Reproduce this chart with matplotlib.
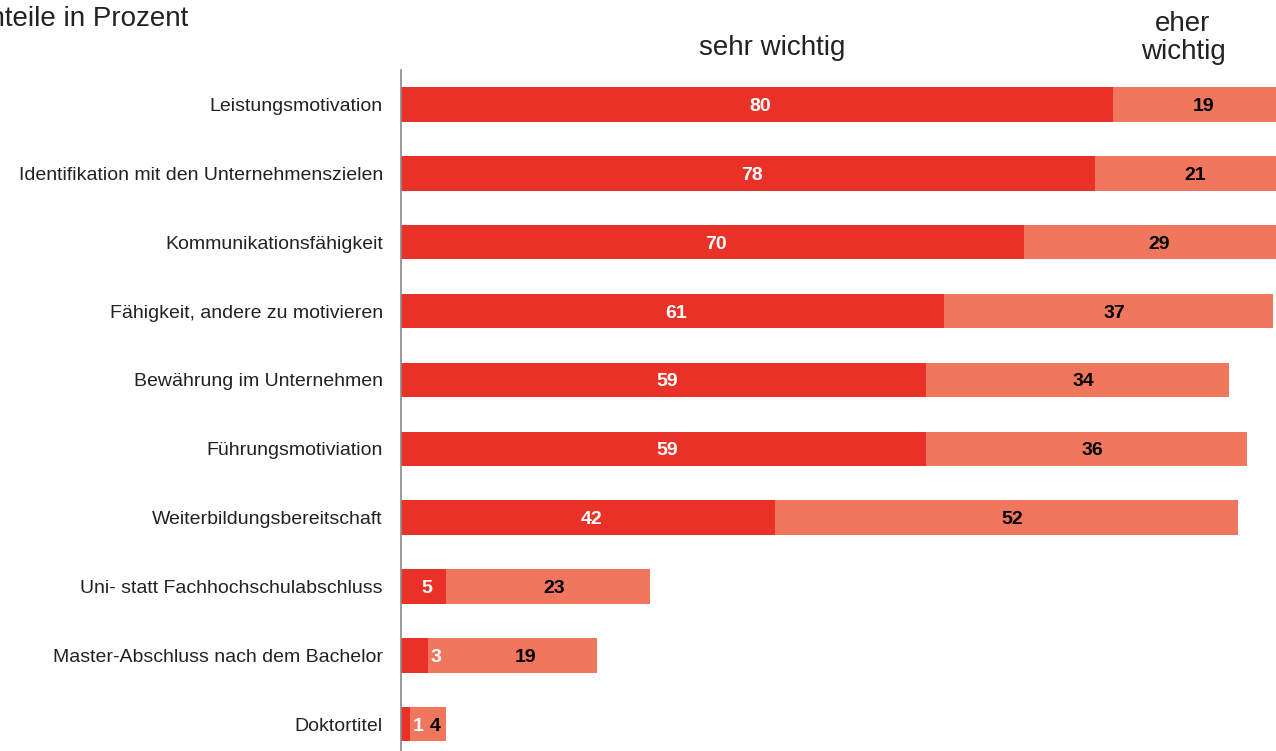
import matplotlib.pyplot as plt

plt.rcParams['font.family'] = ['Liberation Sans', 'DejaVu Sans']

categories = [
    "Leistungsmotivation",
    "Identifikation mit den Unternehmenszielen",
    "Kommunikationsfähigkeit",
    "Fähigkeit, andere zu motivieren",
    "Bewährung im Unternehmen",
    "Führungsmotiviation",
    "Weiterbildungsbereitschaft",
    "Uni- statt Fachhochschulabschluss",
    "Master-Abschluss nach dem Bachelor",
    "Doktortitel",
]
sehr_wichtig = [80, 78, 70, 61, 59, 59, 42, 5, 3, 1]
eher_wichtig = [19, 21, 29, 37, 34, 36, 52, 23, 19, 4]

DARK = "#EA3127"
LIGHT = "#F0765E"

fig = plt.figure(figsize=(12.76, 7.51), dpi=100)
W, H = 1276, 751
ax = fig.add_axes([401 / W, 0, 1 - 401 / W, (751 - 70) / H])

y = list(range(len(categories)))
ax.barh(y, sehr_wichtig, height=0.5, color=DARK)
ax.barh(y, eher_wichtig, left=sehr_wichtig, height=0.5, color=LIGHT)

for i, (a, b) in enumerate(zip(sehr_wichtig, eher_wichtig)):
    if a >= 5:
        ax.text(a / 2 + 0.4, i, str(a), ha="center", va="center_baseline",
                color="white", fontsize=14, fontweight="bold")
    else:
        ax.text(a + 0.3, i, str(a), ha="left", va="center_baseline",
                color="white", fontsize=14, fontweight="bold")
    if a >= 5:
        bx = a + b / 2 + 0.7
    elif a >= 3:
        bx = a + b / 2 + 1.5
    else:
        bx = a + b / 2 + 0.8
    ax.text(bx, i, str(b), ha="center", va="center_baseline", color="black",
            fontsize=14, fontweight="bold", clip_on=False)

ax.set_xlim(0, (W - 401) / 8.9)
ax.set_ylim(9.39, -0.5)
ax.set_yticks(y)
ax.set_yticklabels(categories, fontsize=14, color="#222222")
ax.tick_params(axis="y", length=0, pad=13)
ax.set_xticks([])
for s in ["top", "right", "bottom"]:
    ax.spines[s].set_visible(False)
ax.spines["left"].set_color("#8a8a8a")
ax.spines["left"].set_linewidth(1.2)

fig.text(188 / W, 1 - 19 / H, "Anteile in Prozent", ha="right", va="center",
         fontsize=20, color="#222222")
fig.text(772 / W, 1 - 48 / H, "sehr wichtig", ha="center", va="center",
         fontsize=20, color="#222222")
fig.text(1183 / W, 1 - 38 / H, "eher\nwichtig", ha="center", va="center",
         fontsize=20, color="#222222", linespacing=1.12)

fig.savefig("out.png", dpi=100)
